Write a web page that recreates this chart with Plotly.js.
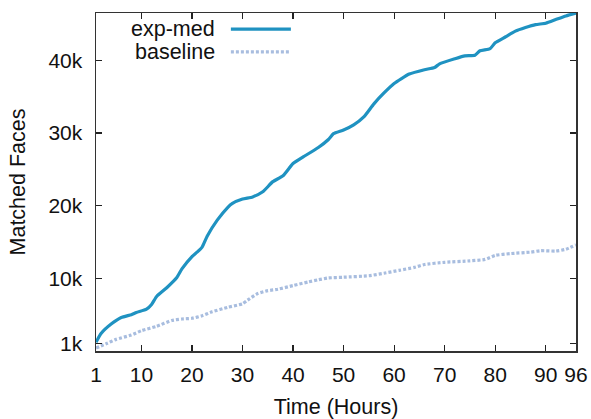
<!DOCTYPE html>
<html>
<head>
<meta charset="utf-8">
<script src="https://cdn.plot.ly/plotly-3.0.1.min.js"></script>
<style>html,body{margin:0;padding:0;background:#fff;}</style>
</head>
<body>
<div id="chart" style="width:591px;height:419px;"></div>
<script>
const seriesNames = ["exp-med", "baseline"];
const expHours = [1,2,4,6,8,9,11,12,13,15,17,18,20,21,22,23,25,27,28,30,32,34,36,38,40,42,45,47,48,50,52,54,56,58,60,63,66,68,69,72,74,76,77,79,80,82,84,86,88,90,92,94,96];
const expValues = [1200,2400,3700,4600,5000,5300,5750,6400,7500,8700,10100,11300,13000,13600,14300,15800,18000,19700,20300,20900,21200,21900,23300,24100,25800,26700,28000,29100,29900,30400,31100,32200,34000,35500,36800,38100,38700,39000,39500,40200,40600,40700,41300,41600,42400,43200,44000,44500,44900,45100,45600,46100,46500];
const baseHours = [1,3,5,8,10,13,16,18,20,22,24,27,30,31,33,35,37,40,43,45,47,50,55,58,61,64,66,70,75,78,80,83,87,89,92,94,96];
const baseValues = [400,1000,1600,2200,2800,3400,4200,4400,4500,4850,5400,6000,6500,7000,7900,8300,8500,9000,9500,9800,10050,10150,10350,10700,11100,11500,11900,12200,12400,12600,13150,13400,13600,13800,13750,14000,14600];
const xTickVals = [1,10,20,30,40,50,60,70,80,90,96];
const xTickText = ["1","10","20","30","40","50","60","70","80","90","96"];
const yTickVals = [1000,10000,20000,30000,40000];
const yTickText = ["1k","10k","20k","30k","40k"];

const expColor = "#1f92c1";
const baseColor = "#a8bddf";
const font = "Liberation Sans, Arial, sans-serif";

const traces = [
  {x: expHours, y: expValues, name: seriesNames[0], type: "scatter", mode: "lines",
   line: {color: expColor, width: 3.2, shape: "spline", smoothing: 0.5}},
  {x: baseHours, y: baseValues, name: seriesNames[1], type: "scatter", mode: "lines",
   line: {color: baseColor, width: 3.2, dash: "3px,2px", shape: "spline", smoothing: 0.5}}
];

const axisCommon = {
  showgrid: false, zeroline: false, showline: true, linecolor: "#333", linewidth: 1.5,
  mirror: "ticks", ticks: "inside", ticklen: 6, tickwidth: 1.2, tickcolor: "#222",
  tickfont: {family: font, size: 21, color: "#111"}
};

const layout = {
  width: 591, height: 419,
  margin: {l: 96, r: 15, t: 13, b: 68},
  paper_bgcolor: "#fff", plot_bgcolor: "#fff",
  showlegend: false,
  xaxis: Object.assign({}, axisCommon, {
    range: [1, 96], tickmode: "array", tickvals: xTickVals, ticktext: xTickText,
    ticklabelstandoff: 4,
    title: {text: "Time (Hours)", font: {family: font, size: 21.5, color: "#111"}, standoff: 14}
  }),
  yaxis: Object.assign({}, axisCommon, {
    range: [0, 46500], tickmode: "array", tickvals: yTickVals, ticktext: yTickText,
    ticklabelstandoff: 8,
    title: {text: "Matched Faces", font: {family: font, size: 21.5, color: "#111"}, standoff: 17}
  }),
  annotations: [
    {xref: "paper", yref: "paper", x: 0.253, y: 0.952, xanchor: "right", yanchor: "middle",
     text: seriesNames[0], showarrow: false, font: {family: font, size: 21.5, color: "#111"}},
    {xref: "paper", yref: "paper", x: 0.253, y: 0.885, xanchor: "right", yanchor: "middle",
     text: seriesNames[1], showarrow: false, font: {family: font, size: 21.5, color: "#111"}}
  ],
  shapes: [
    {type: "line", xref: "paper", yref: "paper", x0: 0.281, x1: 0.406, y0: 0.952, y1: 0.952,
     line: {color: expColor, width: 3.2}},
    {type: "line", xref: "paper", yref: "paper", x0: 0.281, x1: 0.406, y0: 0.885, y1: 0.885,
     line: {color: baseColor, width: 3.2, dash: "3px,2px"}}
  ]
};

Plotly.newPlot("chart", traces, layout, {displayModeBar: false, staticPlot: true});
</script>
</body>
</html>
